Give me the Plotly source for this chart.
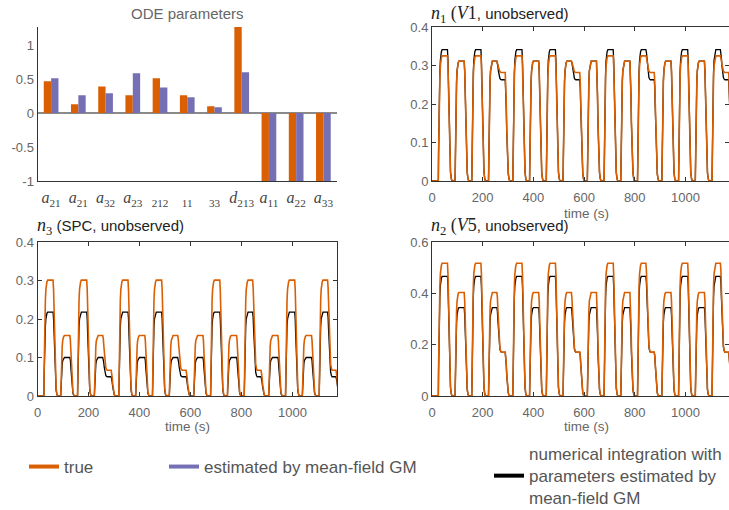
import plotly.graph_objects as go

# ---------------- data ----------------
param_labels = ["<i>a</i><sub>21</sub>", "<i>a</i><sub>21</sub>", "<i>a</i><sub>32</sub>",
                "<i>a</i><sub>23</sub>", "<sub>212</sub>", "<sub>11</sub>", "<sub>33</sub>",
                "<i>d</i><sub>213</sub>", "<i>a</i><sub>11</sub>", "<i>a</i><sub>22</sub>",
                "<i>a</i><sub>33</sub>"]
param_true = [0.466, 0.127, 0.39, 0.26, 0.51, 0.26, 0.098, 1.265, -1, -1, -1]
param_est = [0.51, 0.26, 0.29, 0.583, 0.377, 0.23, 0.083, 0.60, -1, -1, -1]

# stimulus blocks (seconds)
pulse_onsets = [25, 91, 157, 223, 319, 385, 451, 517, 613, 679, 745, 811, 907, 973, 1039, 1105]
pulse_kind = ["H", "L", "H", "L", "H", "L", "H", "L", "L", "H", "L", "H", "L", "H", "L", "H"]
pulse_step = [0, 0, 0, 1, 0, 0, 0, 1, 0, 0, 0, 1, 0, 0, 0, 1]
pulse_len = 36        # duration of a block at full level
step_start = 33       # time after onset where the lower "step" level begins
step_end = 66         # time after onset where the step level ends
t_end = 1180

# plateau levels (H = high block, L = low block, S = step)
n1_true_levels = {"H": 0.325, "L": 0.311, "S": 0.282}
n1_est_levels = {"H": 0.341, "L": 0.311, "S": 0.263}
n3_true_levels = {"H": 0.301, "L": 0.157, "S": 0.067}
n3_est_levels = {"H": 0.218, "L": 0.100, "S": 0.050}
n2_true_levels = {"H": 0.517, "L": 0.403, "S": 0.171}
n2_est_levels = {"H": 0.466, "L": 0.344, "S": 0.170}

# shape of a rise / fall (seconds after switch, fraction of the change)
rise_s = [0, 1, 2, 3, 4, 6, 8, 10, 12, 15]
rise_frac = [0, 0.22, 0.42, 0.57, 0.68, 0.83, 0.92, 0.96, 0.985, 1.0]
fall_s = [0, 2, 4, 6, 8, 10, 12, 15, 18]
fall_frac = [0, 0.08, 0.28, 0.52, 0.72, 0.85, 0.93, 0.98, 1.0]

x_ticks = [0, 200, 400, 600, 800, 1000]


def build(levels):
    ts, vs = [0.0], [0.0]
    cur = 0.0

    def switch(T, new):
        nonlocal cur
        prof_s, prof_f = (rise_s, rise_frac) if new > cur else (fall_s, fall_frac)
        for s, f in zip(prof_s, prof_f):
            ts.append(T + s)
            vs.append(cur + (new - cur) * f)
        cur = new

    for on, kind, st in zip(pulse_onsets, pulse_kind, pulse_step):
        ts.append(on)
        vs.append(cur)
        switch(on, levels[kind])
        if st:
            ts.append(on + step_start)
            vs.append(cur)
            switch(on + step_start, levels["S"])
            ts.append(on + step_end)
            vs.append(cur)
            switch(on + step_end, 0.0)
        else:
            ts.append(on + pulse_len)
            vs.append(cur)
            switch(on + pulse_len, 0.0)
    ts.append(t_end)
    vs.append(cur)
    return ts, vs


ORANGE = "#D95F02"
PURPLE = "#7570B3"
BLACK = "#000000"
SANS = "Liberation Sans, Arial, sans-serif"
SERIF = "Liberation Serif, Times New Roman, serif"
TICKC = "#666666"
AXC = "#333333"
W, H = 729, 510

fig = go.Figure()

# ---------------- bar chart ----------------
idx = list(range(len(param_labels)))
fig.add_trace(go.Bar(x=idx, y=param_true, marker_color=ORANGE, marker_line_width=0,
                     name="true", showlegend=False, xaxis="x", yaxis="y"))
fig.add_trace(go.Bar(x=idx, y=param_est, marker_color=PURPLE, marker_line_width=0,
                     name="estimated by mean-field GM", showlegend=False, xaxis="x", yaxis="y"))

# ---------------- time courses ----------------
panels = [("x2", "y2", n1_true_levels, n1_est_levels),
          ("x3", "y3", n3_true_levels, n3_est_levels),
          ("x4", "y4", n2_true_levels, n2_est_levels)]
for xa, ya, tl, el in panels:
    te, ve = build(el)
    tt, vt = build(tl)
    fig.add_trace(go.Scatter(x=te, y=ve, mode="lines", line=dict(color=BLACK, width=1.3),
                             showlegend=False, xaxis=xa, yaxis=ya, hoverinfo="skip"))
    fig.add_trace(go.Scatter(x=tt, y=vt, mode="lines", line=dict(color=ORANGE, width=1.6),
                             showlegend=False, xaxis=xa, yaxis=ya, hoverinfo="skip"))

# legend entries (line swatches)
fig.add_trace(go.Scatter(x=[None], y=[None], mode="lines", line=dict(color=ORANGE, width=4),
                         name="true", legend="legend", xaxis="x2", yaxis="y2"))
fig.add_trace(go.Scatter(x=[None], y=[None], mode="lines", line=dict(color=PURPLE, width=4),
                         name="estimated by mean-field GM", legend="legend2", xaxis="x2", yaxis="y2"))
fig.add_trace(go.Scatter(x=[None], y=[None], mode="lines", line=dict(color=BLACK, width=4),
                         name="numerical integration with<br>parameters estimated by<br>mean-field GM",
                         legend="legend3", xaxis="x2", yaxis="y2"))


def px_x(p):
    return p / W


def px_y(p):
    return 1 - p / H


top_dom = [px_y(181), px_y(27)]
bot_dom = [px_y(396), px_y(242)]
left_dom = [px_x(37.5), px_x(337)]
right_dom = [px_x(432), 1.0]

tickfont = dict(family=SANS, size=13, color=TICKC)

ts_x = dict(showline=True, linecolor=AXC, linewidth=1, mirror="ticks", ticks="inside",
            ticklen=4, tickcolor=AXC, showgrid=False, zeroline=False, tickvals=x_ticks,
            tickfont=tickfont, ticklabelstandoff=4)
ts_y = dict(showline=True, linecolor=AXC, linewidth=1, mirror="ticks", ticks="inside",
            ticklen=4, tickcolor=AXC, showgrid=False, zeroline=False, tickfont=tickfont)

legend_common = dict(font=dict(family=SANS, size=17, color="#555555"), bgcolor="rgba(0,0,0,0)",
                     borderwidth=0, xanchor="left", yanchor="middle", valign="middle",
                     orientation="v")

fig.update_layout(
    width=W, height=H, margin=dict(l=0, r=0, t=0, b=0, autoexpand=False),
    paper_bgcolor="white", plot_bgcolor="white",
    barmode="group", bargap=0.46, bargroupgap=0,
    xaxis=dict(domain=left_dom, range=[-0.5, 10.5], tickvals=idx, ticktext=param_labels,
               showline=True, linecolor=AXC, linewidth=1, ticks="", showgrid=False,
               zeroline=False, anchor="y",
               tickfont=dict(family=SERIF, size=16, color="#444444"), ticklabelstandoff=2),
    yaxis=dict(domain=top_dom, range=[-1, 1.265], tickvals=[-1, -0.5, 0, 0.5, 1],
               ticktext=["-1", "-0.5", "0", "0.5", "1"], showline=True, linecolor=AXC,
               linewidth=1, ticks="", showgrid=False,
               zeroline=True, zerolinecolor="#8a8a8a", zerolinewidth=1.5, anchor="x",
               tickfont=tickfont),
    xaxis2=dict(domain=right_dom, range=[0, 1172], anchor="y2", **ts_x),
    yaxis2=dict(domain=top_dom, range=[0, 0.4], tickvals=[0, 0.1, 0.2, 0.3, 0.4], anchor="x2", **ts_y),
    xaxis3=dict(domain=left_dom, range=[0, 1175], anchor="y3", **ts_x),
    yaxis3=dict(domain=bot_dom, range=[0, 0.4], tickvals=[0, 0.1, 0.2, 0.3, 0.4], anchor="x3", **ts_y),
    xaxis4=dict(domain=right_dom, range=[0, 1172], anchor="y4", **ts_x),
    yaxis4=dict(domain=bot_dom, range=[0, 0.6], tickvals=[0, 0.2, 0.4, 0.6], anchor="x4", **ts_y),
    legend=dict(x=px_x(24), y=px_y(467), **legend_common),
    legend2=dict(x=px_x(164), y=px_y(467), **legend_common),
    legend3=dict(x=px_x(489), y=px_y(476), **legend_common),
)

title_font = dict(family=SANS, size=15, color="#222222")
ser = 'font-family:Liberation Serif, Times New Roman, serif;font-size:18px'
annots = [
    dict(text="ODE parameters", x=px_x(187.5), y=px_y(13), xanchor="center", yanchor="middle",
         font=dict(family=SANS, size=15, color="#666666")),
    dict(text=f'<span style="{ser}"><i>n</i><sub>1</sub> (<i>V</i>1</span>, unobserved)',
         x=px_x(429), y=px_y(14), xanchor="left", yanchor="middle", font=title_font),
    dict(text=f'<span style="{ser}"><i>n</i><sub>3</sub></span> (SPC, unobserved)',
         x=px_x(35), y=px_y(226), xanchor="left", yanchor="middle", font=title_font),
    dict(text=f'<span style="{ser}"><i>n</i><sub>2</sub> (<i>V</i>5</span>, unobserved)',
         x=px_x(429), y=px_y(226), xanchor="left", yanchor="middle", font=title_font),
    dict(text="time (s)", x=px_x(586), y=px_y(213), xanchor="center", yanchor="middle",
         font=dict(family=SANS, size=13.5, color=TICKC)),
    dict(text="time (s)", x=px_x(187.5), y=px_y(426), xanchor="center", yanchor="middle",
         font=dict(family=SANS, size=13.5, color=TICKC)),
    dict(text="time (s)", x=px_x(586), y=px_y(426), xanchor="center", yanchor="middle",
         font=dict(family=SANS, size=13.5, color=TICKC)),
]
for a in annots:
    a.update(xref="paper", yref="paper", showarrow=False)
fig.update_layout(annotations=annots)

fig.write_html("out.html")
